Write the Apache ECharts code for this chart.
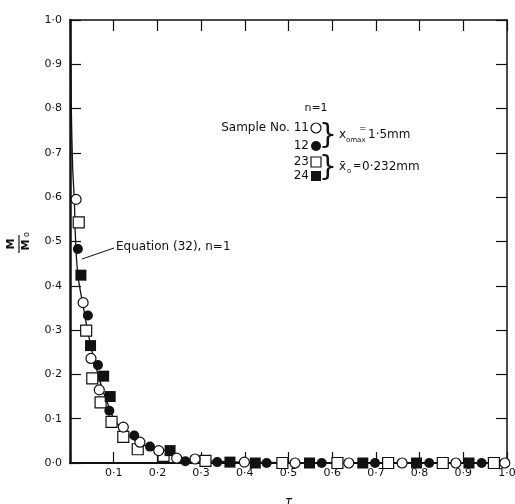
<!DOCTYPE html>
<html>
<head>
<meta charset="utf-8">
<script src="https://cdn.jsdelivr.net/npm/echarts@6/dist/echarts.min.js"></script>
<style>
    html, body { margin: 0; padding: 0; background: #fff; }
    #chart { width: 515px; height: 504px; }
</style>
</head>
<body>
<div id="chart"></div>
<script>
    // tick values for both axes
    var ticks = [0, 0.1, 0.2, 0.3, 0.4, 0.5, 0.6, 0.7, 0.8, 0.9, 1.0];

    // sample 11 (open circle)
    var s11 = [[0.014, 0.595], [0.030, 0.362], [0.048, 0.236], [0.067, 0.165], [0.122, 0.081],
        [0.160, 0.047], [0.203, 0.028], [0.244, 0.011], [0.286, 0.009], [0.399, 0.002],
        [0.515, 0], [0.638, 0], [0.760, 0], [0.883, 0], [0.995, 0]];
    // sample 12 (filled circle)
    var s12 = [[0.018, 0.483], [0.041, 0.333], [0.064, 0.221], [0.090, 0.118], [0.147, 0.062],
        [0.183, 0.037], [0.264, 0.004], [0.337, 0.002], [0.450, 0], [0.576, 0],
        [0.698, 0], [0.822, 0], [0.942, 0]];
    // sample 23 (open square)
    var s23 = [[0.020, 0.543], [0.037, 0.299], [0.051, 0.191], [0.070, 0.137], [0.095, 0.093],
        [0.122, 0.059], [0.155, 0.031], [0.214, 0.016], [0.310, 0.005], [0.486, 0],
        [0.612, 0], [0.728, 0], [0.853, 0], [0.970, 0]];
    // sample 24 (filled square)
    var s24 = [[0.025, 0.424], [0.047, 0.265], [0.077, 0.196], [0.092, 0.150], [0.229, 0.028],
        [0.366, 0.002], [0.424, 0], [0.548, 0], [0.670, 0], [0.793, 0], [0.913, 0]];

    // equation (32), n=1
    var eqX = [0.001, 0.003, 0.006, 0.010, 0.012, 0.015, 0.020, 0.030, 0.040, 0.050, 0.060, 0.070,
        0.080, 0.090, 0.100, 0.120, 0.140, 0.170, 0.200, 0.250, 0.300, 0.400, 0.600, 1.000];
    var eqY = [1.000, 0.800, 0.670, 0.590, 0.520, 0.460, 0.410, 0.355, 0.300, 0.255, 0.215, 0.180,
        0.150, 0.125, 0.100, 0.075, 0.057, 0.040, 0.027, 0.013, 0.006, 0.002, 0.000, 0.000];

    var font = 'DejaVu Sans';
    var ink = '#111';

    function fmt(v) {
        return v.toFixed(1).replace('.', '\u00b7');
    }

    var chart = echarts.init(document.getElementById('chart'));

    var axisBase = {
        type: 'value',
        min: ticks[0],
        max: ticks[ticks.length - 1],
        interval: ticks[1] - ticks[0],
        splitLine: {show: false},
        axisTick: {inside: true, length: 11, lineStyle: {color: ink, width: 1.2}}
    };

    var option = {
        backgroundColor: '#fff',
        animation: false,
        grid: {left: 70, right: 8, top: 20, bottom: 41, outerBoundsMode: 'none', containLabel: false},
        xAxis: [
            Object.assign({}, axisBase, {
                position: 'bottom',
                axisLine: {onZero: false, lineStyle: {color: ink, width: 2}},
                axisLabel: {
                    color: ink, fontFamily: font, fontSize: 11, margin: 5,
                    formatter: function (v) { return v === 0 ? '' : fmt(v); }
                },
                name: '\u03c4',
                nameLocation: 'middle',
                nameGap: 33,
                nameTextStyle: {color: ink, fontFamily: font, fontSize: 12, fontStyle: 'italic'}
            }),
            Object.assign({}, axisBase, {
                position: 'top',
                axisLine: {onZero: false, lineStyle: {color: ink, width: 1.5}},
                axisLabel: {show: false}
            })
        ],
        yAxis: [
            Object.assign({}, axisBase, {
                position: 'left',
                axisLine: {onZero: false, lineStyle: {color: ink, width: 2.5}},
                axisLabel: {color: ink, fontFamily: font, fontSize: 11, margin: 8, formatter: fmt}
            }),
            Object.assign({}, axisBase, {
                position: 'right',
                axisLine: {onZero: false, lineStyle: {color: ink, width: 1.5}},
                axisLabel: {show: false}
            })
        ],
        series: [
            {
                name: 'Equation (32), n=1',
                type: 'line',
                data: eqX.map(function (x, i) { return [x, eqY[i]]; }),
                showSymbol: false,
                smooth: 0.3,
                lineStyle: {color: ink, width: 1.3},
                z: 1
            },
            {
                name: '11', type: 'scatter', data: s11, symbol: 'circle', symbolSize: 10, clip: false,
                itemStyle: {color: '#fff', borderColor: ink, borderWidth: 1.2, opacity: 1}, z: 3
            },
            {
                name: '12', type: 'scatter', data: s12, symbol: 'circle', symbolSize: 10, clip: false,
                itemStyle: {color: ink, opacity: 1}, z: 3
            },
            {
                name: '23', type: 'scatter', data: s23, symbol: 'rect', symbolSize: 11, clip: false,
                itemStyle: {color: '#fff', borderColor: ink, borderWidth: 1.2, opacity: 1}, z: 2
            },
            {
                name: '24', type: 'scatter', data: s24, symbol: 'rect', symbolSize: 11, clip: false,
                itemStyle: {color: ink, opacity: 1}, z: 2
            }
        ],
        graphic: [
            // y axis name: M / M0 written as a fraction, turned on its side
            {
                type: 'group', x: 19, y: 244, rotation: Math.PI / 2,
                children: [
                    {type: 'text', x: 0, y: -2, style: {text: 'M', font: 'bold 11px ' + font, fill: ink, textAlign: 'center', textVerticalAlign: 'bottom'}},
                    {type: 'line', shape: {x1: -9, y1: 0, x2: 9, y2: 0}, style: {stroke: ink, lineWidth: 1.2}},
                    {type: 'text', x: -1, y: 2, style: {text: 'M', font: 'bold 11px ' + font, fill: ink, textAlign: 'center', textVerticalAlign: 'top'}},
                    {type: 'text', x: 7, y: 4, style: {text: 'o', font: '8px ' + font, fill: ink, textAlign: 'left', textVerticalAlign: 'top'}}
                ]
            },
            // equation label and its leader line
            {type: 'line', shape: {x1: 82, y1: 259, x2: 114, y2: 248}, style: {stroke: ink, lineWidth: 1}},
            {type: 'text', x: 116, y: 247, style: {text: 'Equation (32), n=1', font: '12px ' + font, fill: ink, textVerticalAlign: 'middle'}},
            // key
            {type: 'text', x: 316, y: 108, style: {text: 'n=1', font: '11px ' + font, fill: ink, textAlign: 'center', textVerticalAlign: 'middle'}},
            {type: 'text', x: 309, y: 128, style: {text: 'Sample No. 11', font: '12px ' + font, fill: ink, textAlign: 'right', textVerticalAlign: 'middle'}},
            {type: 'circle', shape: {cx: 316, cy: 128, r: 5}, style: {fill: '#fff', stroke: ink, lineWidth: 1.2}},
            {type: 'text', x: 309, y: 146, style: {text: '12', font: '12px ' + font, fill: ink, textAlign: 'right', textVerticalAlign: 'middle'}},
            {type: 'circle', shape: {cx: 316, cy: 146, r: 5}, style: {fill: ink}},
            {type: 'text', x: 309, y: 162, style: {text: '23', font: '12px ' + font, fill: ink, textAlign: 'right', textVerticalAlign: 'middle'}},
            {type: 'rect', shape: {x: 311, y: 157, width: 10, height: 10}, style: {fill: '#fff', stroke: ink, lineWidth: 1.2}},
            {type: 'text', x: 309, y: 176, style: {text: '24', font: '12px ' + font, fill: ink, textAlign: 'right', textVerticalAlign: 'middle'}},
            {type: 'rect', shape: {x: 311, y: 171, width: 10, height: 10}, style: {fill: ink}},
            {type: 'text', x: 328, y: 137, style: {text: '}', font: '28px ' + font, fill: ink, textAlign: 'center', textVerticalAlign: 'middle'}},
            {type: 'text', x: 328, y: 169, style: {text: '}', font: '28px ' + font, fill: ink, textAlign: 'center', textVerticalAlign: 'middle'}},
            {type: 'text', x: 339, y: 135, style: {text: 'x', font: '12px ' + font, fill: ink, textVerticalAlign: 'middle'}},
            {type: 'text', x: 346, y: 140, style: {text: 'omax', font: '7px ' + font, fill: ink, textVerticalAlign: 'middle'}},
            {type: 'text', x: 359, y: 129, style: {text: '=', font: '9px ' + font, fill: ink, textVerticalAlign: 'middle'}},
            {type: 'text', x: 368, y: 135, style: {text: '1\u00b75mm', font: '12px ' + font, fill: ink, textVerticalAlign: 'middle'}},
            {type: 'text', x: 339, y: 167, style: {text: 'x\u0304', font: '12px ' + font, fill: ink, textVerticalAlign: 'middle'}},
            {type: 'text', x: 347, y: 171, style: {text: 'o', font: '7px ' + font, fill: ink, textVerticalAlign: 'middle'}},
            {type: 'text', x: 353, y: 166, style: {text: '=', font: '10px ' + font, fill: ink, textVerticalAlign: 'middle'}},
            {type: 'text', x: 362, y: 167, style: {text: '0\u00b7232mm', font: '12px ' + font, fill: ink, textVerticalAlign: 'middle'}}
        ]
    };

    chart.setOption(option);
</script>
</body>
</html>
